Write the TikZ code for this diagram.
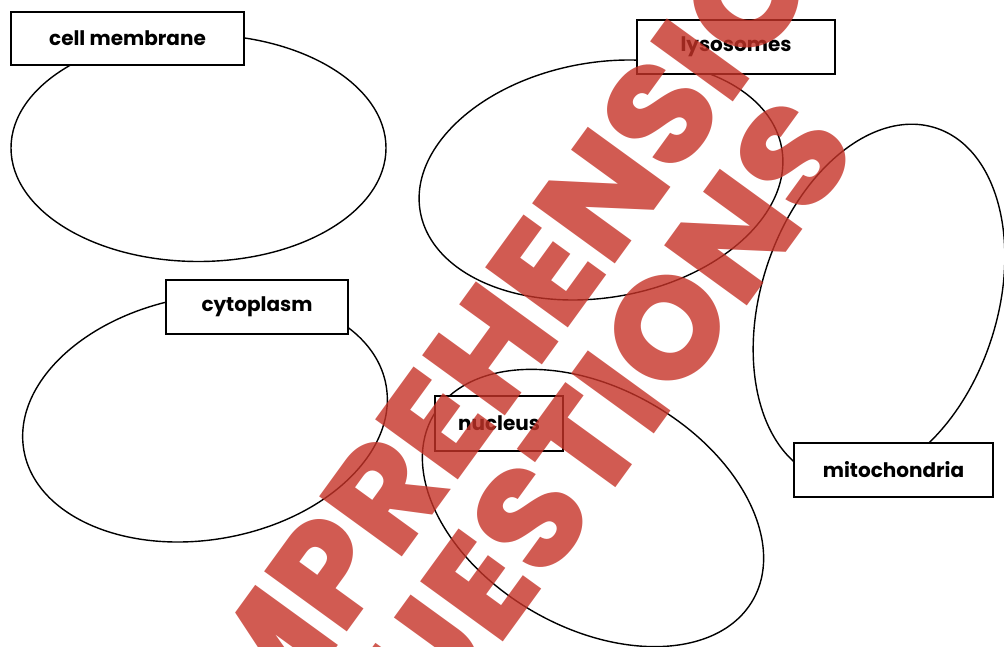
\documentclass[tikz,border=0pt]{standalone}
\usepackage{fontspec}
\setmainfont{Poppins}
\newfontfamily\wmfont{Poppins}[UprightFont={* ExtraBold}]
\usetikzlibrary{shapes.geometric,calc}
\definecolor{wmred}{RGB}{197,50,39}
\newlength\wa
\newlength\wb
\newlength\wi
\tikzset{
  blob/.style={draw, ellipse, inner sep=0pt, line width=1.4pt},
  labelbox/.style={draw, line width=1.8pt, fill=white, inner sep=0pt,
    font=\bfseries\fontsize{20}{24}\selectfont},
  wm/.style={font=\wmfont\fontsize{145}{145}\selectfont, text=wmred,
    text opacity=0.8, inner sep=0pt, rotate=54, anchor=base}
}
\begin{document}
\settowidth\wa{\wmfont\fontsize{145}{145}\selectfont QUEST}
\settowidth\wb{\wmfont\fontsize{145}{145}\selectfont QUESTIONS}
\settowidth\wi{\wmfont\fontsize{145}{145}\selectfont I}
\begin{tikzpicture}[x=1pt,y=-1pt]
\useasboundingbox (0,0) rectangle (1004,647);
\clip (0,0) rectangle (1004,647);
% ellipses
\node[blob, minimum width=375pt, minimum height=227pt] (cmE) at (198.5,148) {};
\node[blob, minimum width=367pt, minimum height=235pt, rotate=9.9] (lyE) at (601,180) {};
\node[blob, minimum width=368pt, minimum height=243pt, rotate=10.3] (cyE) at (205,418) {};
\node[blob, minimum width=369pt, minimum height=239pt, rotate=-30] (nuE) at (593,508) {};
\node[blob, minimum width=368pt, minimum height=236pt, rotate=72] (miE) at (879,303) {};
% label boxes
\node[labelbox, minimum width=233pt, minimum height=53pt] (cm) at (127.5,38.5) {cell membrane};
\node[labelbox, minimum width=198pt, minimum height=54pt] (ly) at (736,47) {lysosomes};
\node[labelbox, minimum width=182pt, minimum height=54pt] (cy) at (257,307) {cytoplasm};
\node[labelbox, minimum width=128pt, minimum height=55pt] (nu) at (499,423.5) {nucleus};
\node[labelbox, minimum width=199pt, minimum height=54pt] (mi) at (893.5,470) {mitochondria};
% watermark
\coordinate (O) at (662.7,422.7);
\coordinate (C2) at ($(O)+({0.5878*(0.5*\wb-\wa-0.5*\wi)},{0.8090*(0.5*\wb-\wa-0.5*\wi)})$);
\coordinate (C1) at ($(C2)+(-0.8090*132pt,0.5878*132pt)$);
\node[wm] (w1) at (C1) {COMPREHENSION};
\node[wm] (w2) at (C2) {QUESTIONS};
\end{tikzpicture}
\end{document}
